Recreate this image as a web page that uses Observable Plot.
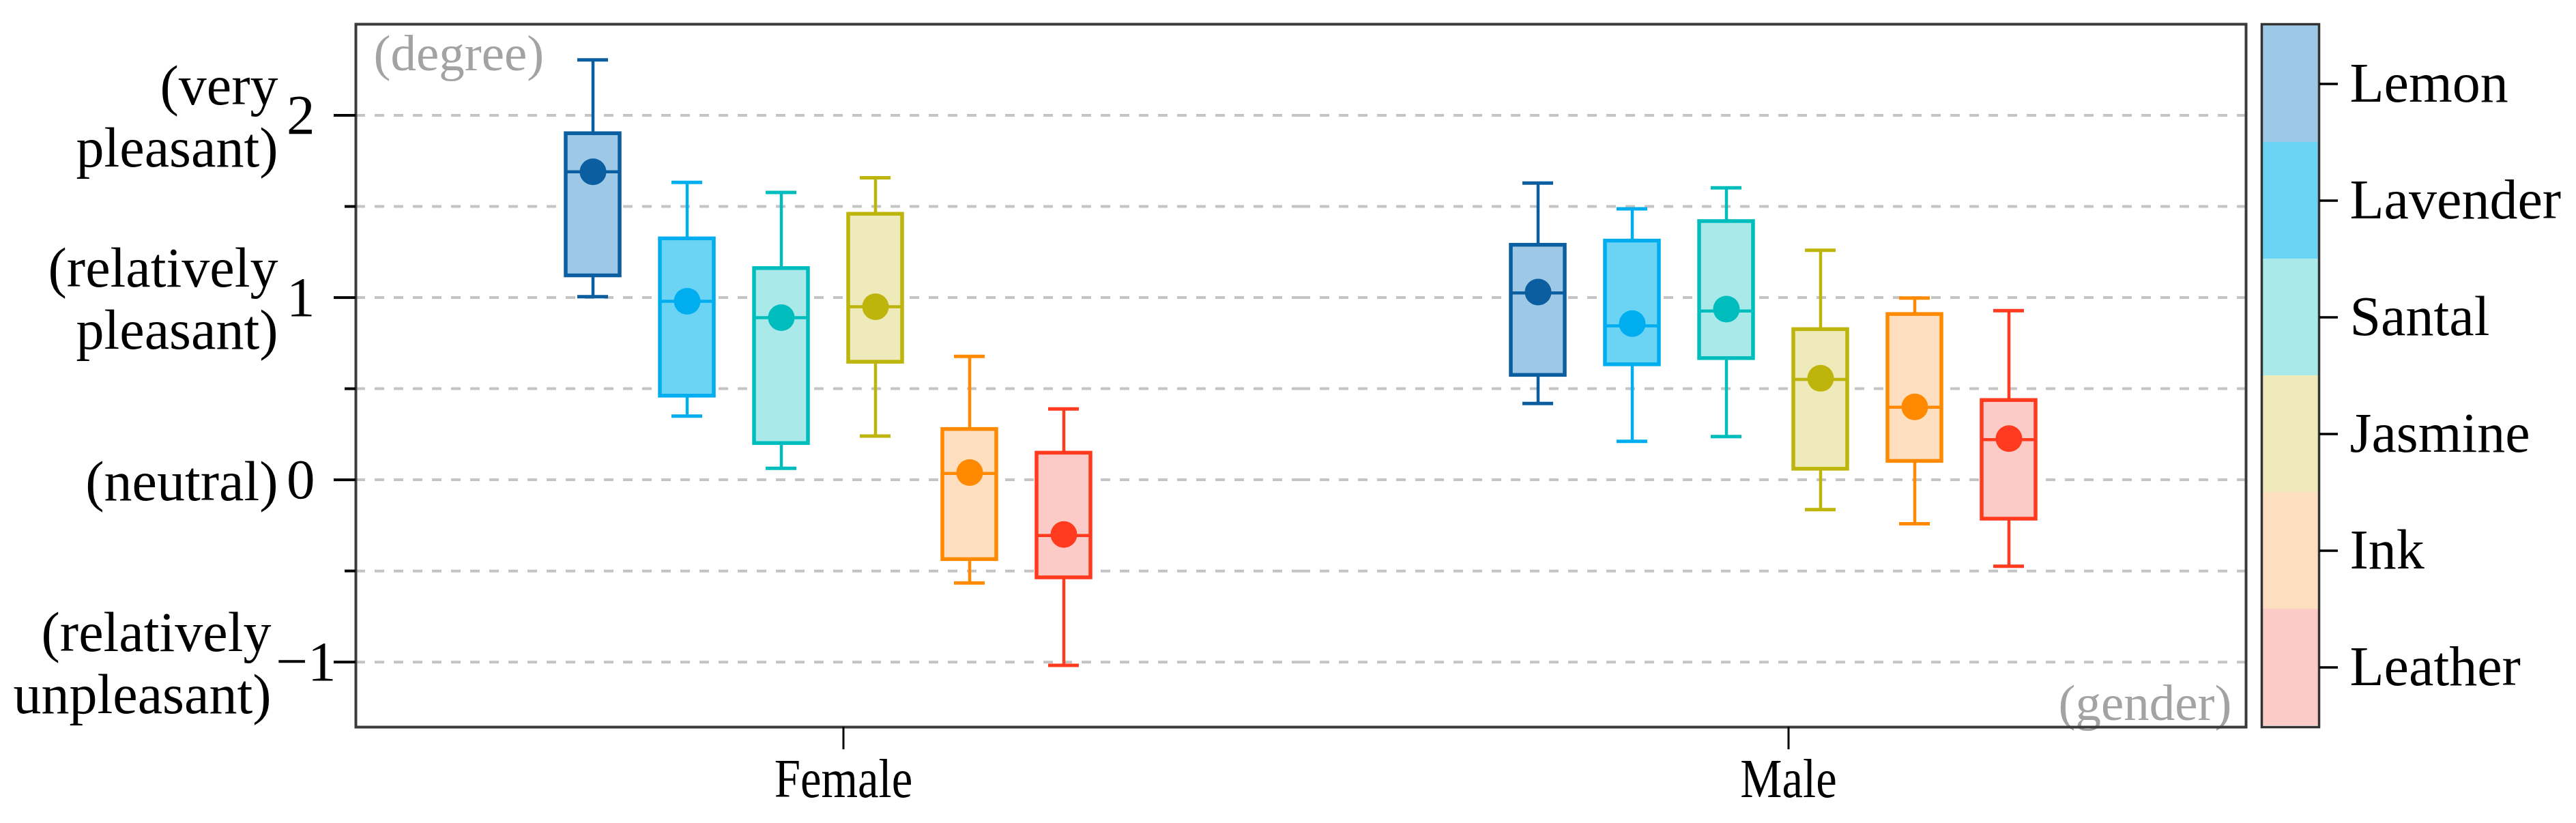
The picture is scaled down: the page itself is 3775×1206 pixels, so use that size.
<!DOCTYPE html>
<html>
<head>
<meta charset="utf-8">
<script src="https://cdn.jsdelivr.net/npm/d3@7"></script>
<script src="https://cdn.jsdelivr.net/npm/@observablehq/plot@0.6"></script>
<style>
  html, body { margin: 0; padding: 0; background: #fff; }
  #chart { display: flex; flex-direction: row; align-items: flex-start; width: 3775px; height: 1206px; }
</style>
</head>
<body>
<div id="chart"></div>
<script>
// ---------- data ----------
const genders = ["Female", "Male"];
const fragrances = ["Lemon", "Lavender", "Santal", "Jasmine", "Ink", "Leather"];

const femaleMin    = [1.005, 0.35, 0.063, 0.24, -0.566, -1.018];
const femaleQ1     = [1.12, 0.46, 0.20, 0.646, -0.437, -0.537];
const femaleMedian = [1.69, 0.98, 0.89, 0.95, 0.035, -0.306];
const femaleMean   = [1.69, 0.98, 0.89, 0.95, 0.04, -0.30];
const femaleQ3     = [1.90, 1.323, 1.16, 1.458, 0.277, 0.147];
const femaleMax    = [2.304, 1.632, 1.577, 1.657, 0.677, 0.389];

const maleMin    = [0.419, 0.211, 0.237, -0.163, -0.241, -0.474];
const maleQ1     = [0.574, 0.632, 0.666, 0.059, 0.102, -0.215];
const maleMedian = [1.026, 0.845, 0.926, 0.551, 0.398, 0.22];
const maleMean   = [1.03, 0.857, 0.937, 0.557, 0.40, 0.226];
const maleQ3     = [1.288, 1.311, 1.418, 0.825, 0.908, 0.436];
const maleMax    = [1.628, 1.487, 1.602, 1.26, 0.997, 0.928];

const yMajorTicks = [2, 1, 0, -1];
const yMinorTicks = [1.5, 0.5, -0.5];
const gridValues = [2, 1.5, 1, 0.5, 0, -0.5, -1];
const yDescriptors = ["(very\npleasant)", "(relatively\npleasant)", "(neutral)", "(relatively\nunpleasant)"];
const yAxisTitle = "(degree)";
const xAxisTitle = "(gender)";

// ---------- styles ----------
const strokeColors = ["#0b5e9f", "#00aeef", "#00bdbd", "#bdb50b", "#ff8a00", "#ff3a1f"];
const fillColors   = ["#9dc8e6", "#6bd4f5", "#a9e9e9", "#eeeab9", "#fddfc0", "#fdcbc7"];
const FONT = "'Liberation Serif', 'Times New Roman', serif";

// ---------- table ----------
const stats = {
  Female: [femaleMin, femaleQ1, femaleMedian, femaleMean, femaleQ3, femaleMax],
  Male: [maleMin, maleQ1, maleMedian, maleMean, maleQ3, maleMax]
};
const rows = [];
for (const g of genders) {
  const [mn, q1, md, me, q3, mx] = stats[g];
  fragrances.forEach((f, i) => {
    rows.push({gender: g, fragrance: f, min: mn[i], q1: q1[i], median: md[i], mean: me[i], q3: q3[i], max: mx[i]});
  });
}
const strokeOf = d => strokeColors[fragrances.indexOf(d.fragrance)];
const fillOf = d => fillColors[fragrances.indexOf(d.fragrance)];
const intFormat = d3.format("d");
const describe = d => yDescriptors[yMajorTicks.indexOf(d)];

// ---------- main plot ----------
const main = Plot.plot({
  width: 3300,
  height: 1206,
  marginTop: 35,
  marginBottom: 141,
  marginLeft: 520,
  marginRight: 9,
  style: {fontFamily: FONT, fontSize: "83px", background: "#fff", color: "#000", overflow: "visible"},
  fx: {domain: genders, padding: 0, axis: null, label: null},
  x: {domain: fragrances, paddingInner: 0.426, paddingOuter: 2.215, axis: null, label: null},
  y: {domain: [-1.357, 2.5], axis: null, label: null},
  color: {type: "identity"},
  marks: [
    Plot.gridY(gridValues, {stroke: "#c4c4c4", strokeOpacity: 1, strokeWidth: 4, strokeDasharray: "14,14"}),
    Plot.ruleX(rows, {fx: "gender", x: "fragrance", y1: "min", y2: "max", stroke: strokeOf, strokeWidth: 4.5}),
    Plot.tickY(rows, {fx: "gender", x: "fragrance", y: "min", stroke: strokeOf, strokeWidth: 5, insetLeft: 17, insetRight: 17}),
    Plot.tickY(rows, {fx: "gender", x: "fragrance", y: "max", stroke: strokeOf, strokeWidth: 5, insetLeft: 17, insetRight: 17}),
    Plot.barY(rows, {fx: "gender", x: "fragrance", y1: "q1", y2: "q3", fill: fillOf, stroke: strokeOf, strokeWidth: 5.5}),
    Plot.tickY(rows, {fx: "gender", x: "fragrance", y: "median", stroke: strokeOf, strokeWidth: 4.5}),
    Plot.dot(rows, {fx: "gender", x: "fragrance", y: "mean", r: 19.5, fill: strokeOf, stroke: "none"}),
    Plot.text([{g: genders[0], t: yAxisTitle}], {fx: "g", text: "t", frameAnchor: "top-left", dx: 26, dy: 14, fill: "#a3a3a3", fontSize: 75}),
    Plot.text([{g: genders[1], t: xAxisTitle}], {fx: "g", text: "t", frameAnchor: "bottom-right", dx: -21, dy: -11, fill: "#a3a3a3", fontSize: 75}),
    Plot.frame({facet: "super", stroke: "#3a3a3a", strokeWidth: 4}),
    // major ticks with numeric labels
    Plot.axisY({ticks: yMajorTicks.slice(0, 3), tickSize: 32, tickPadding: 28, strokeWidth: 4, fontSize: 83, tickFormat: intFormat, label: null}),
    Plot.axisY({ticks: yMajorTicks.slice(3), tickSize: 32, tickPadding: -3, strokeWidth: 4, fontSize: 83, tickFormat: intFormat, label: null}),
    // minor ticks
    Plot.axisY({ticks: yMinorTicks, tickSize: 16, strokeWidth: 4, tickFormat: () => "", label: null}),
    // verbal descriptors
    Plot.axisY({ticks: yMajorTicks.slice(0, 3), tickSize: 0, tickPadding: 114, fontSize: 82, lineHeight: 1.12,
      tickFormat: describe, label: null}),
    Plot.axisY({ticks: yMajorTicks.slice(3), tickSize: 0, tickPadding: 124, fontSize: 82, lineHeight: 1.12,
      tickFormat: describe, label: null}),
    Plot.axisFx({anchor: "bottom", tickSize: 33, tickPadding: 13, strokeWidth: 3, fontSize: 80, dx: 22, label: null})
  ]
});

// ---------- legend (colour key) ----------
const legend = Plot.plot({
  width: 475,
  height: 1206,
  marginTop: 35,
  marginBottom: 141,
  marginLeft: 14,
  marginRight: 377,
  style: {fontFamily: FONT, fontSize: "82px", background: "#fff", color: "#000", overflow: "visible"},
  y: {type: "band", domain: fragrances, padding: 0, axis: null, label: null},
  color: {type: "identity"},
  marks: [
    Plot.cell(fragrances, {y: d => d, fill: d => fillColors[fragrances.indexOf(d)], inset: 0}),
    Plot.frame({stroke: "#333", strokeWidth: 3.5}),
    Plot.axisY({anchor: "right", tickSize: 27, tickPadding: 18, strokeWidth: 3.5, fontSize: 82, label: null})
  ]
});

const holder = document.getElementById("chart");
holder.appendChild(main);
holder.appendChild(legend);

// the gender labels in the reference are horizontally condensed
main.querySelectorAll('[aria-label="fx-axis tick label"] text').forEach(t => {
  const len = t.getComputedTextLength();
  t.setAttribute("textLength", (len * 0.86).toFixed(1));
  t.setAttribute("lengthAdjust", "spacingAndGlyphs");
});
</script>
</body>
</html>
